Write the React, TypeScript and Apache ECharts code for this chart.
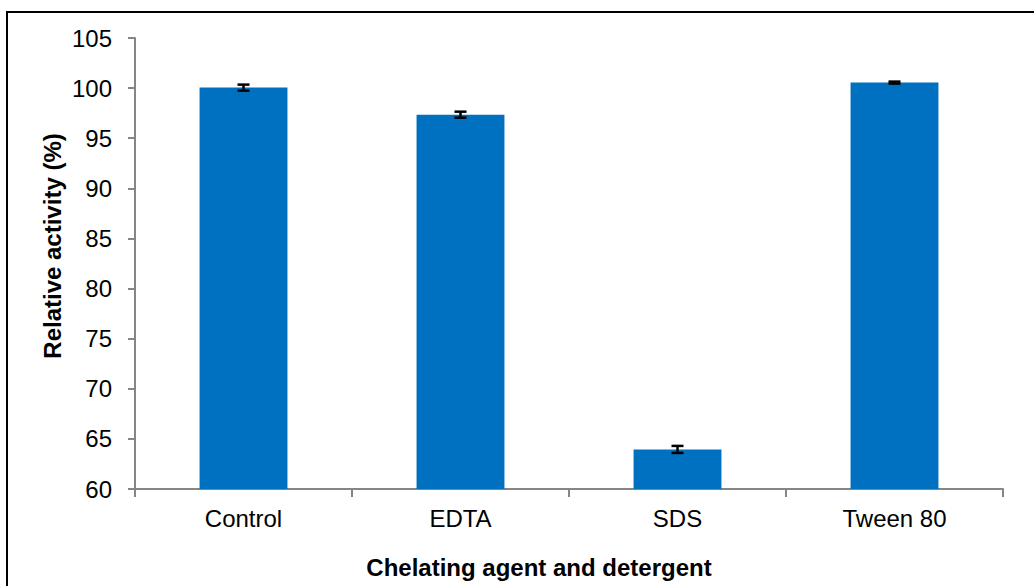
import React, { useEffect, useRef } from "react";
import * as echarts from "echarts";

const categories = ["Control", "EDTA", "SDS", "Tween 80"];
const values = [100.05, 97.35, 63.95, 100.55];
const errors = [0.3, 0.3, 0.35, 0.1];
const yTicks = { min: 60, max: 105, interval: 5 };

export default function App() {
  const ref = useRef<HTMLDivElement>(null);
  useEffect(() => {
    const chart = echarts.init(ref.current!, undefined, { renderer: "svg" });
    const font = "'Liberation Sans', Arial, sans-serif";
    chart.setOption({
      animation: false,
      backgroundColor: "#ffffff",
      grid: { left: 135, right: 31, top: 38, bottom: 97 },
      xAxis: {
        type: "category",
        data: categories,
        boundaryGap: true,
        axisLine: { show: true, lineStyle: { color: "#868686", width: 2 } },
        axisTick: { show: true, length: 8, alignWithLabel: false, lineStyle: { color: "#868686", width: 2 } },
        axisLabel: { color: "#000", fontSize: 24, fontFamily: font, margin: 17 },
        splitLine: { show: false },
      },
      yAxis: {
        type: "value",
        min: yTicks.min,
        max: yTicks.max,
        interval: yTicks.interval,
        axisLine: { show: true, lineStyle: { color: "#868686", width: 2 } },
        axisTick: { show: true, length: 7, lineStyle: { color: "#868686", width: 2 } },
        axisLabel: { color: "#000", fontSize: 24, fontFamily: font, margin: 23 },
        splitLine: { show: false },
      },
      series: [
        {
          type: "bar",
          data: values,
          barWidth: "40.5%",
          itemStyle: { color: "#0070C0" },
          z: 2,
        },
        {
          type: "custom",
          z: 5,
          data: categories.map((_, i) => [i, values[i] - errors[i], values[i] + errors[i]]),
          renderItem: (params: any, api: any) => {
            const x = api.value(0);
            const lo = api.coord([x, api.value(1)]);
            const hi = api.coord([x, api.value(2)]);
            const half = 6;
            const style = { stroke: "#000", lineWidth: 2.5 };
            return {
              type: "group",
              children: [
                { type: "line", shape: { x1: lo[0], y1: lo[1], x2: hi[0], y2: hi[1] }, style },
                { type: "line", shape: { x1: lo[0] - half, y1: lo[1], x2: lo[0] + half, y2: lo[1] }, style },
                { type: "line", shape: { x1: hi[0] - half, y1: hi[1], x2: hi[0] + half, y2: hi[1] }, style },
              ],
            };
          },
        },
      ],
      graphic: [
        {
          type: "rect",
          shape: { x: 7, y: 12, width: 1040, height: 600 },
          style: { fill: "none", stroke: "#000", lineWidth: 2 },
          silent: true,
        },
        {
          type: "text",
          x: 539,
          y: 567,
          style: {
            text: "Chelating agent and detergent",
            font: `bold 24px ${font}`,
            fill: "#000",
            align: "center",
            verticalAlign: "middle",
          },
        },
        {
          type: "text",
          x: 52,
          y: 246,
          rotation: Math.PI / 2,
          style: {
            text: "Relative activity (%)",
            font: `bold 24px ${font}`,
            fill: "#000",
            align: "center",
            verticalAlign: "middle",
          },
        },
      ],
    });
    return () => chart.dispose();
  }, []);
  return (
    <div
      ref={ref}
      style={{ position: "fixed", left: 0, top: 0, width: 1034, height: 586 }}
    />
  );
}
